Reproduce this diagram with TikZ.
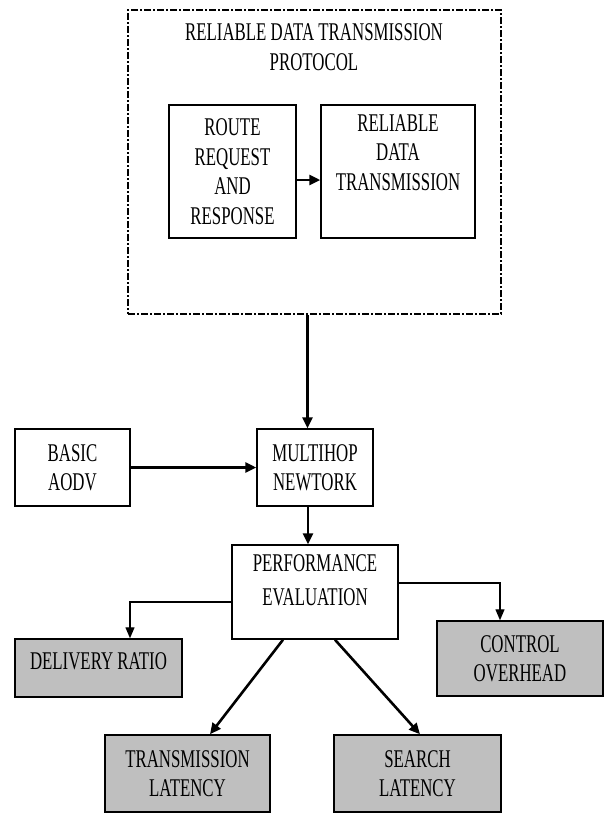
\documentclass[tikz,border=0pt]{standalone}
\usepackage{fontspec}
\setmainfont{Liberation Serif}[FakeStretch=0.66]
\usetikzlibrary{arrows.meta}

\begin{document}
\begin{tikzpicture}[x=1pt,y=-1pt,
    every node/.style={font=\fontsize{25.5}{29.5}\selectfont, align=center},
    box/.style={draw, line width=1.5pt, inner sep=0pt},
    result/.style={box, fill=gray!50},
    flow/.style={line width=2.6pt, -{Triangle[length=11pt,width=10pt]}},
    branch/.style={line width=1.4pt, -{Triangle[length=11pt,width=9pt]}}]
  \useasboundingbox (0,0) rectangle (604,815);

  % protocol block
  \node[box, line width=2pt, dash pattern=on 7pt off 2pt on 2pt off 2pt,
        minimum width=373pt, minimum height=304pt] (rdtp) at (314.5,162) {};
  \node (title) at (314,47) {RELIABLE DATA TRANSMISSION\\PROTOCOL};
  \node[box, minimum width=127pt, minimum height=133pt] (rrr) at (232.5,171.5)
    {ROUTE\\REQUEST\\AND\\RESPONSE};
  \node[box, minimum width=154pt, minimum height=133pt] (rdt) at (398,171.5)
    {RELIABLE\\DATA\\TRANSMISSION\\\strut};

  % network
  \node[box, minimum width=115pt, minimum height=77pt] (aodv) at (72.5,467.5) {BASIC\\AODV};
  \node[box, minimum width=116pt, minimum height=77pt] (mhn) at (315,467.5) {MULTIHOP\\NEWTORK};
  \node[box, minimum width=166pt, minimum height=94pt] (pe) at (315,592)
    {PERFORMANCE\\[4pt]EVALUATION\\[-14pt]\strut};

  % metrics
  \node[result, minimum width=167pt, minimum height=58pt, text depth=14pt] (dr) at (98.5,668) {DELIVERY RATIO};
  \node[result, minimum width=166pt, minimum height=75pt] (co) at (520,658.5) {CONTROL\\OVERHEAD};
  \node[result, minimum width=165pt, minimum height=77pt] (tl) at (187.5,773.5) {TRANSMISSION\\LATENCY};
  \node[result, minimum width=167pt, minimum height=77pt] (sl) at (417.5,773.5) {SEARCH\\LATENCY};

  \draw[flow] ([yshift=-8.5pt]rrr.east) -- ([yshift=-8.5pt]rdt.west);
  \draw[flow] ([xshift=-7pt]rdtp.south) -- ([xshift=-7pt]rdtp.south |- mhn.north);
  \draw[flow] (aodv) -- (mhn);
  \draw[flow] ([xshift=-7pt]mhn.south) -- ([xshift=-7pt]mhn.south |- pe.north);
  \draw[branch] ([yshift=-10pt]pe.west) -| ([xshift=31.5pt]dr.north);
  \draw[branch] ([yshift=9pt]pe.east) -| ([xshift=-20pt]co.north);
  \draw[flow] ([xshift=-32pt]pe.south) -- ([xshift=22.5pt]tl.north);
  \draw[flow] ([xshift=20pt]pe.south) -- ([xshift=2.5pt]sl.north);
\end{tikzpicture}
\end{document}
